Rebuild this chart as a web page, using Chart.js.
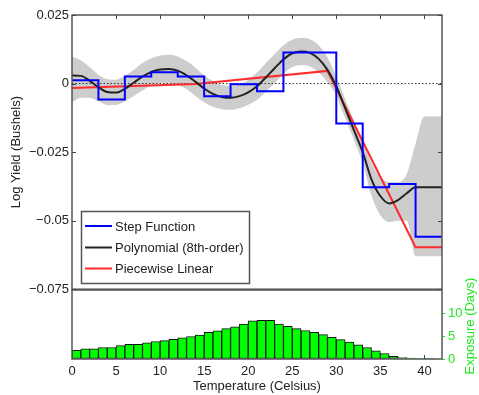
<!DOCTYPE html>
<html><head><meta charset="utf-8">
<script src="https://cdn.jsdelivr.net/npm/chart.js@4/dist/chart.umd.min.js"></script>
<style>
html,body{margin:0;padding:0;background:#fff;}
#wrap{position:relative;width:479px;height:395px;overflow:hidden;}
canvas{position:absolute;left:0;top:0;}
</style></head><body>
<div id="wrap"><canvas id="bot" width="479" height="395"></canvas><canvas id="top" width="479" height="300"></canvas></div>
<script>
// ---------- data ----------
const tempGrid = [0,1,2,3,4,5,6,7,8,9,10,11,12,13,14,15,16,17,18,19,20,21,22,23,24,25,26,27,28,29,30,31,32,33,34,35,36,37,38,39,40,41,42];
const polyVals = [0.0029,0.0028,0.001,-0.0013,-0.0031,-0.0033,-0.0019,0.0003,0.0025,0.0042,0.0051,0.0053,0.0047,0.003,0.0007,-0.0018,-0.0038,-0.0049,-0.0052,-0.0046,-0.0032,-0.001,0.0022,0.0056,0.0088,0.011,0.0117,0.0112,0.009,0.005,-0.001,-0.009,-0.017,-0.025,-0.035,-0.041,-0.0437,-0.0425,-0.040,-0.0378,-0.0378,-0.0378,-0.0378];
const bandUpper = [0.0098,0.0085,0.006,0.0032,0.0016,0.0014,0.0028,0.005,0.0075,0.0092,0.0102,0.0105,0.0099,0.0082,0.0058,0.003,0.0008,-0.0005,-0.0009,-0.0003,0.0013,0.004,0.0075,0.0108,0.014,0.016,0.0167,0.0162,0.014,0.0095,0.0025,-0.0055,-0.0135,-0.021,-0.029,-0.034,-0.036,-0.036,-0.033,-0.022,-0.012,-0.012,-0.012];
const bandLower = [-0.0069,-0.0052,-0.0052,-0.0065,-0.0078,-0.0078,-0.0065,-0.0045,-0.0025,-0.0008,0.0,0.0,-0.0005,-0.002,-0.0045,-0.0068,-0.0085,-0.0094,-0.0096,-0.009,-0.0077,-0.006,-0.003,0.0002,0.0035,0.006,0.0068,0.0062,0.004,0.0005,-0.0045,-0.0125,-0.0205,-0.029,-0.041,-0.048,-0.0505,-0.050,-0.050,-0.063,-0.063,-0.063,-0.063];
const stepEdges = [0,3,6,9,12,15,18,21,24,27,30,33,36,39,42];
const stepVals = [0.0012,-0.0058,0.0026,0.0041,0.0026,-0.0046,-0.0003,-0.0028,0.0113,0.0113,-0.0146,-0.0378,-0.0366,-0.0559];
const linKnotsX = [0,14,29,39,42];
const linKnotsY = [-0.0016,-0.0002,0.0046,-0.0597,-0.0597];
const zeroLineX = [0,42];
const zeroLineY = [0,0];
const exposureBins = [0,1,2,3,4,5,6,7,8,9,10,11,12,13,14,15,16,17,18,19,20,21,22,23,24,25,26,27,28,29,30,31,32,33,34,35,36,37,38,39,40,41];
const exposureDays = [1.9,2.2,2.2,2.5,2.5,2.9,3.2,3.2,3.5,3.8,4.0,4.3,4.6,4.9,5.2,5.8,6.1,6.6,7.0,7.6,8.3,8.4,8.4,7.6,7.1,6.6,6.2,5.8,5.3,4.7,4.2,3.7,3.1,2.5,1.8,1.2,0.6,0.3,0.2,0.1,0.05,0];
const xTickVals = [0,5,10,15,20,25,30,35,40];
const yTickValsTop = [0.025,0,-0.025,-0.05,-0.075];
const yTickValsBot = [0,5,10];
const legendLabels = ['Step Function','Polynomial (8th-order)','Piecewise Linear'];

// ---------- styles ----------
const FONT = "'Liberation Sans', Arial, sans-serif";
const FS = 13;
const TXT = '#222';
const FRAME = '#555';
const GREEN_TXT = '#22e822';
const seriesColors = ['#0000ff','#222222','#ff2a2a'];

function pts(xs, ys){ return xs.map((x,i)=>({x:x, y:ys[i]})); }
function fmtTop(v){
  const r = Math.round(v*1000)/1000;
  if (r === 0) return '0';
  const s = String(Math.abs(r));
  return (r < 0 ? '\u2212' : '') + s;
}

function framePlugin(opts){
  return {
    id:'frame',
    afterDraw(chart){
      const {ctx, chartArea:a, scales} = chart;
      ctx.save();
      ctx.strokeStyle = FRAME; ctx.lineWidth = 1.5;
      ctx.strokeRect(a.left, a.top, a.right-a.left, a.bottom-a.top);
      ctx.lineWidth = 1; ctx.strokeStyle = '#444';
      const L = 4;
      if (opts.topTicks) xTickVals.forEach(v=>{ if(v===0) return; const x=Math.round(scales.x.getPixelForValue(v))+0.5; ctx.beginPath(); ctx.moveTo(x,a.top); ctx.lineTo(x,a.top+L); ctx.stroke(); });
      if (opts.bottomTicks) xTickVals.forEach(v=>{ if(v===0) return; const x=Math.round(scales.x.getPixelForValue(v))+0.5; ctx.beginPath(); ctx.moveTo(x,a.bottom); ctx.lineTo(x,a.bottom-L); ctx.stroke(); });
      if (opts.leftTicks) yTickValsTop.forEach(v=>{ const y=Math.round(scales.y.getPixelForValue(v))+0.5; ctx.beginPath(); ctx.moveTo(a.left,y); ctx.lineTo(a.left+L,y); ctx.stroke(); ctx.beginPath(); ctx.moveTo(a.right,y); ctx.lineTo(a.right-L,y); ctx.stroke(); });
      if (opts.legend){
        const bx=81.5, by=211.5, bw=168, bh=72;
        ctx.fillStyle='#fff'; ctx.fillRect(bx,by,bw,bh);
        ctx.strokeStyle=FRAME; ctx.lineWidth=1.5; ctx.strokeRect(bx,by,bw,bh);
        ctx.font = FS+'px '+FONT; ctx.textBaseline='middle'; ctx.textAlign='left';
        const rows=[226,247.5,268.5];
        legendLabels.forEach((t,i)=>{
          ctx.strokeStyle = seriesColors[i]; ctx.lineWidth=2;
          ctx.beginPath(); ctx.moveTo(85,rows[i]); ctx.lineTo(112,rows[i]); ctx.stroke();
          ctx.fillStyle = TXT; ctx.fillText(t,115,rows[i]+1);
        });
      }
      if (opts.rightTitle){
        ctx.fillStyle = GREEN_TXT; ctx.font=FS+'px '+FONT;
        ctx.translate(470, 326); ctx.rotate(-Math.PI/2);
        ctx.textAlign='center'; ctx.textBaseline='middle';
        ctx.fillText('Exposure (Days)',0,0);
      }
      ctx.restore();
    }
  };
}

Chart.defaults.font.family = FONT;
Chart.defaults.font.size = FS;
Chart.defaults.color = TXT;

// ---------- top chart ----------
new Chart(document.getElementById('top'), {
  type:'scatter',
  data:{datasets:[
    {data:pts(stepEdges, stepVals.concat([stepVals[stepVals.length-1]])), showLine:true, stepped:true, borderColor:seriesColors[0], borderWidth:2, pointRadius:0},
    {data:pts(tempGrid, polyVals), showLine:true, cubicInterpolationMode:'monotone', borderColor:seriesColors[1], borderWidth:2, pointRadius:0},
    {data:pts(linKnotsX, linKnotsY), showLine:true, borderColor:seriesColors[2], borderWidth:2, pointRadius:0},
    {data:pts(zeroLineX, zeroLineY), showLine:true, borderColor:'#333', borderWidth:1, borderDash:[1.5,2], pointRadius:0},
    {data:pts(tempGrid, bandUpper), showLine:true, cubicInterpolationMode:'monotone', borderWidth:0, borderColor:'rgba(0,0,0,0)', pointRadius:0, fill:false},
    {data:pts(tempGrid, bandLower), showLine:true, cubicInterpolationMode:'monotone', borderWidth:0, borderColor:'rgba(0,0,0,0)', pointRadius:0, fill:'-1', backgroundColor:'#cdcdcd'}
  ]},
  options:{
    responsive:false, animation:false, devicePixelRatio:1,
    layout:{padding:{left:0,right:37,top:15,bottom:10}},
    plugins:{legend:{display:false}, tooltip:{enabled:false}},
    scales:{
      x:{type:'linear', min:0, max:42, display:false},
      y:{type:'linear', min:-0.075, max:0.025,
         afterFit(s){ s.width = 72; },
         afterBuildTicks(s){ s.ticks = yTickValsTop.map(v=>({value:v})); },
         ticks:{callback:(v)=>fmtTop(v), padding:3, color:TXT, font:{size:FS}},
         grid:{display:false, drawTicks:false}, border:{display:false},
         title:{display:true, text:'Log Yield (Bushels)', color:TXT, font:{size:FS}, padding:{top:9,bottom:0}}
      }
    }
  },
  plugins:[framePlugin({topTicks:true, leftTicks:true, legend:true})]
});

// ---------- bottom chart ----------
new Chart(document.getElementById('bot'), {
  type:'bar',
  data:{datasets:[
    {data:pts(exposureBins.map(b=>b+0.5), exposureDays), backgroundColor:'#00ff00', borderColor:'#111', borderWidth:1, barPercentage:1, categoryPercentage:1, borderSkipped:false}
  ]},
  options:{
    responsive:false, animation:false, devicePixelRatio:1,
    layout:{padding:{left:72,right:0,top:290,bottom:0}},
    plugins:{legend:{display:false}, tooltip:{enabled:false}},
    scales:{
      x:{type:'linear', min:0, max:42, offset:false,
         afterFit(s){ s.height = 36; },
         afterBuildTicks(s){ s.ticks = xTickVals.map(v=>({value:v})); },
         ticks:{padding:5, color:TXT, maxRotation:0, autoSkip:false, font:{size:FS}},
         grid:{display:false, drawTicks:false}, border:{display:false},
         title:{display:true, text:'Temperature (Celsius)', color:TXT, font:{size:FS}, padding:{top:0,bottom:1}}
      },
      y:{type:'linear', position:'right', min:0, max:15,
         afterFit(s){ s.width = 37; },
         afterBuildTicks(s){ s.ticks = yTickValsBot.map(v=>({value:v})); },
         ticks:{padding:3, color:GREEN_TXT, font:{size:FS}},
         grid:{display:true, drawOnChartArea:false, drawTicks:true, tickLength:3, color:GREEN_TXT}, border:{display:false}
      }
    }
  },
  plugins:[framePlugin({bottomTicks:true, rightTitle:true})]
});
</script>
</body></html>
